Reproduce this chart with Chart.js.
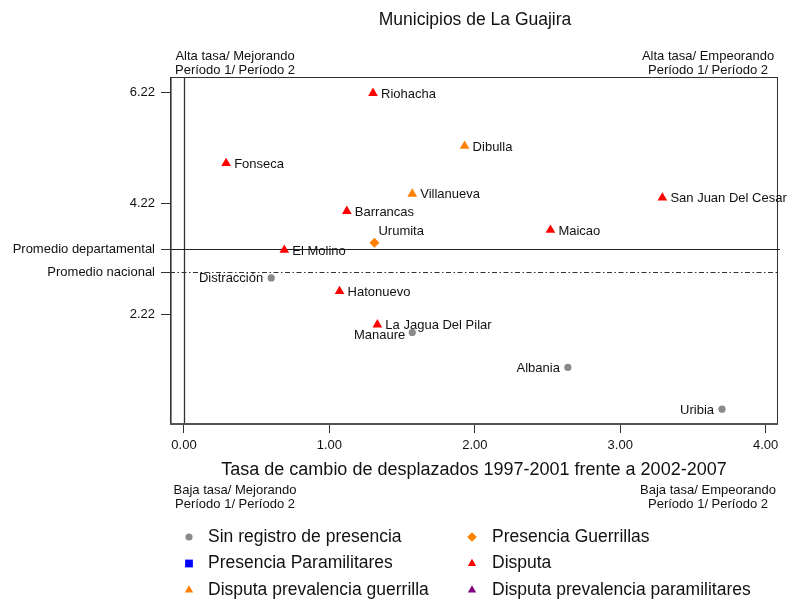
<!DOCTYPE html>
<html>
<head>
<meta charset="utf-8">
<script src="https://cdn.jsdelivr.net/npm/chart.js@4"></script>
<style>
  html, body { margin: 0; padding: 0; background: #fff; }
  #wrap { width: 791px; height: 602px; }
</style>
</head>
<body>
<div id="wrap"><canvas id="grafico" width="791" height="602"></canvas></div>
<script>
// ---- DATOS ----
const titulo = "Municipios de La Guajira";
const tituloEjeX = "Tasa de cambio de desplazados 1997-2001 frente a 2002-2007";

const categorias = [
  "Sin registro de presencia",
  "Presencia Paramilitares",
  "Disputa prevalencia guerrilla",
  "Presencia Guerrillas",
  "Disputa",
  "Disputa prevalencia paramilitares"
];

const nombresSinRegistro = ["Distracción", "Manaure", "Albania", "Uribia"];
const xSinRegistro = [0.60, 1.57, 2.64, 3.70];
const ySinRegistro = [2.88, 1.90, 1.27, 0.52];

const nombresParamilitares = [];
const xParamilitares = [];
const yParamilitares = [];

const nombresDispGuerrilla = ["Dibulla", "Villanueva"];
const xDispGuerrilla = [1.93, 1.57];
const yDispGuerrilla = [5.25, 4.39];

const nombresGuerrillas = ["Urumita"];
const xGuerrillas = [1.31];
const yGuerrillas = [3.51];

const nombresDisputa = ["Riohacha", "Fonseca", "Barrancas", "El Molino", "Hatonuevo",
  "La Jagua Del Pilar", "San Juan Del Cesar", "Maicao"];
const xDisputa = [1.30, 0.29, 1.12, 0.69, 1.07, 1.33, 3.29, 2.52];
const yDisputa = [6.20, 4.94, 4.08, 3.38, 2.64, 2.04, 4.32, 3.74];

const nombresDispParam = [];
const xDispParam = [];
const yDispParam = [];

const promedioDepartamental = 3.39;
const promedioNacional = 2.98;

const xTicks = [0, 1, 2, 3, 4];
const yTicks = [2.22, 2.98, 3.39, 4.22, 6.22];
const yTickLabels = ["2.22", "Promedio nacional", "Promedio departamental", "4.22", "6.22"];

const esquinas = {
  arribaIzq: ["Alta tasa/ Mejorando", "Período 1/ Período 2"],
  arribaDer: ["Alta tasa/ Empeorando", "Período 1/ Período 2"],
  abajoIzq: ["Baja tasa/ Mejorando", "Período 1/ Período 2"],
  abajoDer: ["Baja tasa/ Empeorando", "Período 1/ Período 2"]
};

// lado de la etiqueta (por defecto a la derecha)
const ladoEtiqueta = {
  "Distracción": "left", "Manaure": "leftLow", "Albania": "left",
  "Uribia": "left", "Urumita": "above"
};

const FONT = "'Liberation Sans', Arial, sans-serif";

function puntos(xs, ys, nombres) {
  return xs.map((v, i) => ({ x: v, y: ys[i], nombre: nombres[i] }));
}

const estilos = [
  { color: "#8a8a8a", forma: "circle", r: 3.6 },
  { color: "#0000ff", forma: "rect", r: 5.5 },
  { color: "#ff8000", forma: "triangle", r: 5.6 },
  { color: "#ff8000", forma: "rectRot", r: 5 },
  { color: "#ff0000", forma: "triangle", r: 5.6 },
  { color: "#800080", forma: "triangle", r: 5.6 }
];

const series = [
  puntos(xSinRegistro, ySinRegistro, nombresSinRegistro),
  puntos(xParamilitares, yParamilitares, nombresParamilitares),
  puntos(xDispGuerrilla, yDispGuerrilla, nombresDispGuerrilla),
  puntos(xGuerrillas, yGuerrillas, nombresGuerrillas),
  puntos(xDisputa, yDisputa, nombresDisputa),
  puntos(xDispParam, yDispParam, nombresDispParam)
];

const datasets = categorias.map((c, i) => ({
  label: c,
  data: series[i],
  pointStyle: estilos[i].forma,
  pointRadius: estilos[i].r,
  pointHoverRadius: estilos[i].r,
  pointBackgroundColor: estilos[i].color,
  pointBorderColor: estilos[i].color,
  pointBorderWidth: 0
}));

// ---- PLUGIN: lineas, marco, textos, leyenda ----
const extras = {
  id: "extras",
  beforeDatasetsDraw(chart) {
    const { ctx, chartArea: a, scales: { x, y } } = chart;
    ctx.save();
    const x0 = Math.round(x.getPixelForValue(0)) + 0.5;
    ctx.strokeStyle = "#333";
    ctx.lineWidth = 1.3;
    ctx.beginPath(); ctx.moveTo(x0, a.top); ctx.lineTo(x0, a.bottom); ctx.stroke();

    const yd = Math.round(y.getPixelForValue(promedioDepartamental)) + 0.5;
    ctx.strokeStyle = "#222";
    ctx.lineWidth = 1;
    ctx.beginPath(); ctx.moveTo(a.left, yd); ctx.lineTo(a.right + 2, yd); ctx.stroke();

    const yn = Math.round(y.getPixelForValue(promedioNacional)) + 0.5;
    ctx.strokeStyle = "#333";
    ctx.setLineDash([5, 2.5, 1.5, 2.5]);
    ctx.beginPath(); ctx.moveTo(a.left, yn); ctx.lineTo(a.right, yn); ctx.stroke();
    ctx.setLineDash([]);

    // marco
    ctx.strokeStyle = "#333";
    ctx.lineWidth = 1;
    ctx.strokeRect(a.left + 0.5, a.top + 0.5, a.width - 1, a.height - 1);
    ctx.lineWidth = 1.6;
    ctx.beginPath(); ctx.moveTo(a.left + 0.8, a.top); ctx.lineTo(a.left + 0.8, a.bottom); ctx.stroke();
    ctx.strokeStyle = "#555";
    ctx.lineWidth = 2;
    ctx.beginPath(); ctx.moveTo(a.left, a.bottom); ctx.lineTo(a.right, a.bottom); ctx.stroke();
    ctx.restore();
  },
  afterDatasetsDraw(chart) {
    const { ctx, scales: { x, y } } = chart;
    ctx.save();
    ctx.font = "13px " + FONT;
    ctx.fillStyle = "#111";
    ctx.textBaseline = "middle";
    series.forEach(s => s.forEach(p => {
      const px = x.getPixelForValue(p.x);
      const py = y.getPixelForValue(p.y);
      const lado = ladoEtiqueta[p.nombre] || "right";
      if (lado === "left") {
        ctx.textAlign = "right"; ctx.fillText(p.nombre, px - 8, py + 1);
      } else if (lado === "leftLow") {
        ctx.textAlign = "right"; ctx.fillText(p.nombre, px - 7, py + 3);
      } else if (lado === "above") {
        ctx.textAlign = "left"; ctx.fillText(p.nombre, px + 4, py - 11);
      } else {
        ctx.textAlign = "left"; ctx.fillText(p.nombre, px + 8, py + 1);
      }
    }));
    ctx.restore();
  },
  afterDraw(chart) {
    const { ctx } = chart;
    ctx.save();
    ctx.fillStyle = "#111";
    ctx.textBaseline = "middle";
    ctx.textAlign = "center";

    ctx.font = "17.5px " + FONT;
    ctx.fillText(titulo, 475, 20);

    ctx.font = "13px " + FONT;
    ctx.fillText(esquinas.arribaIzq[0], 235, 56);
    ctx.fillText(esquinas.arribaIzq[1], 235, 70);
    ctx.fillText(esquinas.arribaDer[0], 708, 56);
    ctx.fillText(esquinas.arribaDer[1], 708, 70);
    ctx.fillText(esquinas.abajoIzq[0], 235, 490);
    ctx.fillText(esquinas.abajoIzq[1], 235, 504);
    ctx.fillText(esquinas.abajoDer[0], 708, 490);
    ctx.fillText(esquinas.abajoDer[1], 708, 504);

    ctx.font = "18px " + FONT;
    ctx.fillText(tituloEjeX, 474, 470);

    // leyenda en dos columnas
    const filas = [537, 563.5, 590];
    const cols = [{ m: 189, t: 208 }, { m: 472, t: 492 }];
    ctx.font = "17.5px " + FONT;
    ctx.textAlign = "left";
    categorias.forEach((c, i) => {
      const col = cols[Math.floor(i / 3)];
      const fy = filas[i % 3];
      const e = estilos[i];
      ctx.fillStyle = e.color;
      Chart.helpers.drawPoint(ctx, {
        pointStyle: e.forma,
        radius: e.forma === "circle" ? 3.6 : (e.forma === "rect" ? 5.5 : 4.8),
        borderWidth: 0
      }, col.m, fy);
      ctx.fillStyle = "#111";
      ctx.fillText(c, col.t, fy);
    });
    ctx.restore();
  }
};

// ---- GRAFICO ----
const ctx = document.getElementById("grafico").getContext("2d");
new Chart(ctx, {
  type: "scatter",
  data: { datasets },
  options: {
    responsive: false,
    animation: false,
    layout: { padding: { top: 77, right: 13, left: 0, bottom: 0 } },
    plugins: { legend: { display: false }, tooltip: { enabled: false } },
    scales: {
      x: {
        type: "linear",
        min: -0.096,
        max: 4.085,
        afterFit: s => { s.height = 178; },
        afterBuildTicks: s => { s.ticks = xTicks.map(v => ({ value: v })); },
        border: { display: false },
        grid: { drawOnChartArea: false, drawTicks: true, tickLength: 9, color: "#333" },
        ticks: {
          autoSkip: false,
          maxRotation: 0,
          padding: 5,
          color: "#111",
          font: { family: FONT, size: 13 },
          callback: v => Number(v).toFixed(2)
        }
      },
      y: {
        type: "linear",
        min: 0.254,
        max: 6.49,
        afterFit: s => { s.width = 170; },
        afterBuildTicks: s => { s.ticks = yTicks.map(v => ({ value: v })); },
        border: { display: false },
        grid: { drawOnChartArea: false, drawTicks: true, tickLength: 9, color: "#333" },
        ticks: {
          autoSkip: false,
          padding: 6,
          color: "#111",
          font: { family: FONT, size: 13 },
          callback: (v, i) => yTickLabels[i]
        }
      }
    }
  },
  plugins: [extras]
});
</script>
</body>
</html>
